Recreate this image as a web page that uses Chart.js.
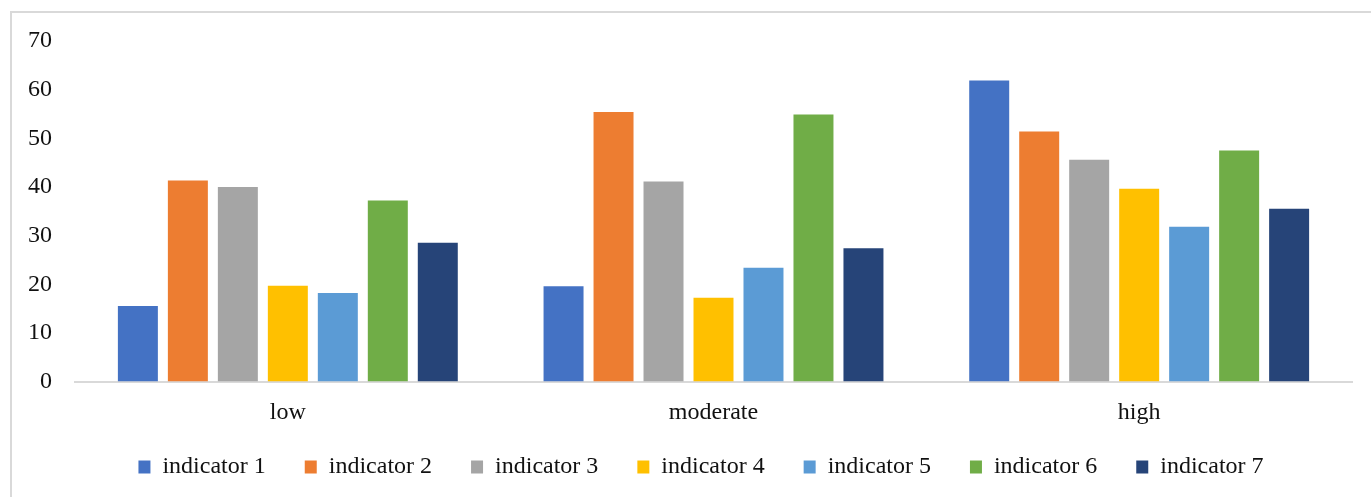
<!DOCTYPE html>
<html lang="en">
  <head>
    <meta charset="UTF-8">
    <script src="https://cdn.jsdelivr.net/npm/chart.js"></script>
    <style>
      body { margin: 0; overflow: hidden; background: #fff; }
      .frame {
        position: absolute; left: 10px; top: 11px; width: 1500px; height: 600px;
        border-top: 2px solid #d9d9d9; border-left: 2px solid #d9d9d9;
      }
      .chart-container { position: absolute; left: 0; top: 0; width: 1371px; height: 497px; }
    </style>
  </head>
  <body>
    <div class="frame"></div>
    <div class="chart-container">
      <canvas id="levelChart"></canvas>
    </div>
<script>
  // data
  const levels = ['low', 'moderate', 'high'];
  const indicatorNames = ['indicator 1', 'indicator 2', 'indicator 3', 'indicator 4', 'indicator 5', 'indicator 6', 'indicator 7'];
  const indicator1 = [15.5, 19.6, 61.9];
  const indicator2 = [41.3, 55.4, 51.4];
  const indicator3 = [40.0, 41.1, 45.6];
  const indicator4 = [19.7, 17.2, 39.6];
  const indicator5 = [18.2, 23.4, 31.8];
  const indicator6 = [37.2, 54.9, 47.5];
  const indicator7 = [28.5, 27.4, 35.5];
  const yTicks = [0, 10, 20, 30, 40, 50, 60, 70];

  const seriesValues = [indicator1, indicator2, indicator3, indicator4, indicator5, indicator6, indicator7];
  const colors = ['#4472C4', '#ED7D31', '#A5A5A5', '#FFC000', '#5B9BD5', '#70AD47', '#264478'];

  const fontFamily = '"Liberation Serif", "Times New Roman", serif';
  Chart.defaults.font.family = fontFamily;
  Chart.defaults.color = '#111';

  // move the legend closer to the axis labels and a bit to the right, like the original
  const legendShift = {
    id: 'legendShift',
    afterLayout(chart) {
      chart.legend.left += 11;
      chart.legend.right += 11;
      chart.legend.top -= 12.5;
      chart.legend.bottom -= 12.5;
    }
  };

  const levelChart = new Chart(document.getElementById('levelChart'), {
    type: 'bar',
    data: {
      labels: levels,
      datasets: seriesValues.map((vals, i) => ({
        label: indicatorNames[i],
        data: vals,
        backgroundColor: colors[i],
        borderWidth: 0,
        categoryPercentage: 0.822,
        barPercentage: 0.8
      }))
    },
    options: {
      responsive: true,
      maintainAspectRatio: false,
      animation: false,
      layout: { padding: { left: 28, right: 19, top: 41, bottom: -4.5 } },
      scales: {
        x: {
          grid: { display: false, drawTicks: false },
          border: { display: true, color: '#d9d9d9', width: 2 },
          ticks: { font: { size: 24 }, padding: 17 },
          afterFit: (scale) => { scale.height = 47; }
        },
        y: {
          min: 0,
          max: 70,
          grid: { display: false, drawTicks: false },
          border: { display: false },
          afterBuildTicks: (scale) => { scale.ticks = yTicks.map(v => ({ value: v })); },
          afterFit: (scale) => { scale.width = 47; },
          ticks: { font: { size: 24 }, padding: 23 }
        }
      },
      plugins: {
        tooltip: { enabled: false },
        legend: {
          position: 'bottom',
          labels: { boxWidth: 12, boxHeight: 13, padding: 39, font: { size: 24 } }
        }
      }
    },
    plugins: [legendShift]
  });
</script>
  </body>
</html>
